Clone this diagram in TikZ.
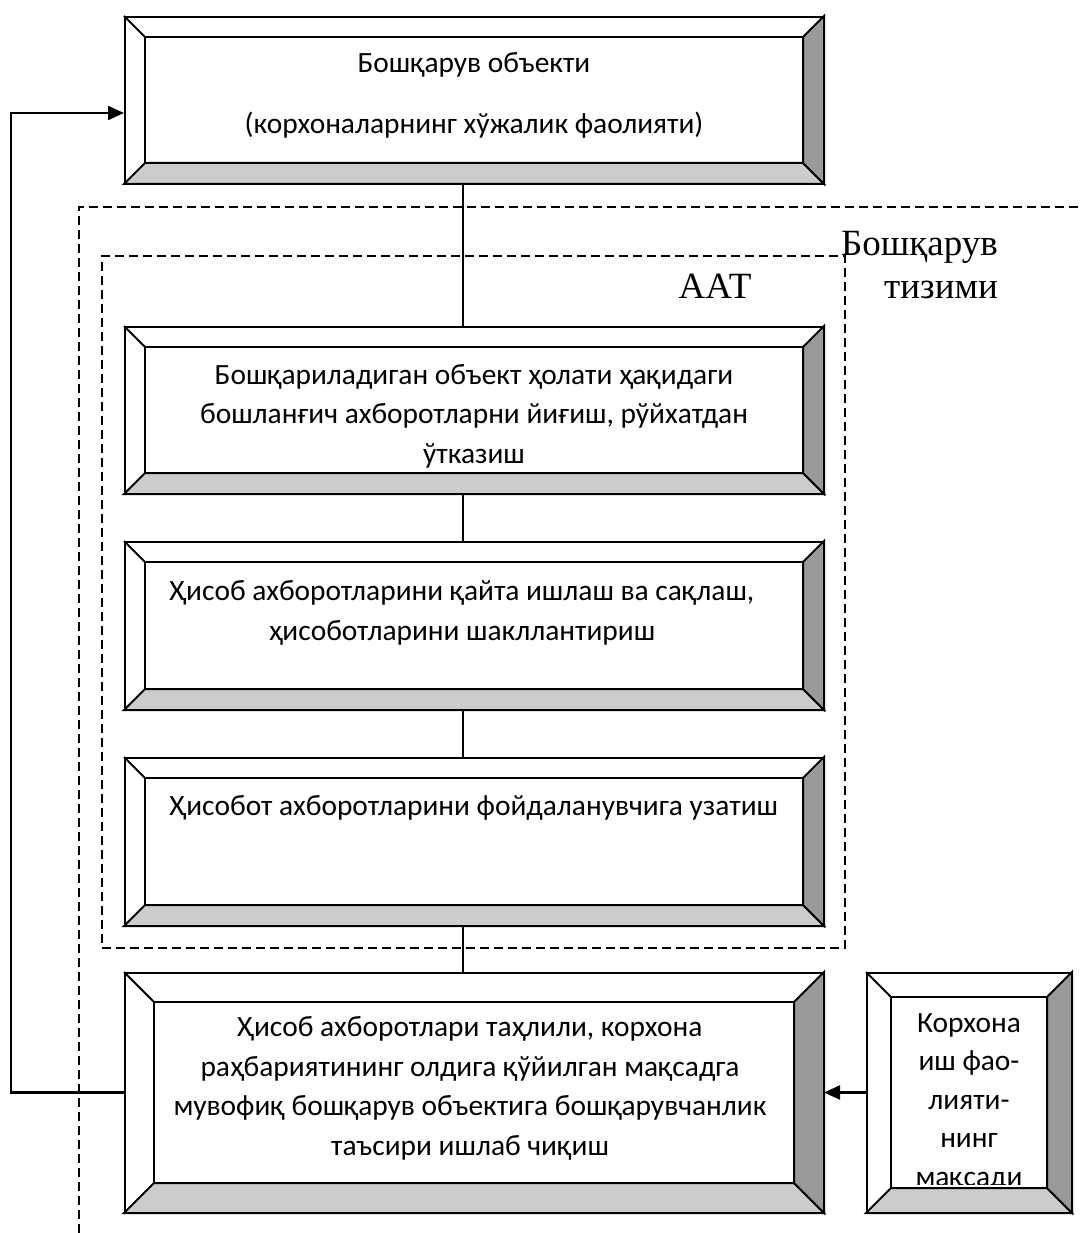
\documentclass[tikz,border=0pt]{standalone}
\usepackage{fontspec}
\setmainfont{Carlito}
\newfontfamily\timescyr{Liberation Serif}
\usetikzlibrary{arrows.meta, fit, positioning}
\tikzset{
  bbox/.style  = {rectangle, draw=black, fill=white, line width=2pt, inner sep=0pt},
  btext/.style = {align=center, inner sep=0pt, anchor=base,
                  font=\fontsize{29.4}{39.5}\selectfont},
  link/.style  = {draw=black, line width=1.6pt},
  fb/.style    = {draw=black, line width=2.2pt, -{Triangle[length=16pt, width=14pt]}},
  frame/.style = {draw=black, line width=2pt, dash pattern=on 9pt off 5pt},
  tag/.style   = {inner sep=0pt, font=\timescyr\fontsize{37}{43}\selectfont},
}
\newcommand\bevel[2]{%
  \filldraw[fill=black!20, line width=2pt] (#1.south west) -- ([shift={(#2,-#2)}]#1.south west)
    -- ([shift={(-#2,-#2)}]#1.south east) -- (#1.south east) -- cycle;
  \filldraw[fill=black!40, line width=2pt] (#1.north east) -- ([shift={(-#2,#2)}]#1.north east)
    -- ([shift={(-#2,-#2)}]#1.south east) -- (#1.south east) -- cycle;
  \draw[line width=2pt] (#1.north west) -- ([shift={(#2,#2)}]#1.north west);
  \draw[line width=2pt] ([shift={(#2,#2)}]#1.north west) rectangle ([shift={(-#2,-#2)}]#1.south east);
}

\begin{document}
\begin{tikzpicture}[x=1pt, y=-1pt]
  \useasboundingbox (0,0) rectangle (1083,1233);

  \draw[frame] (79,1233) -- (79,207) -- (1083,207);
  \node[frame, fit={(102,256) (845,948)}, inner sep=0pt] (aat) {};
  \node[tag, anchor=base] (aat-l) at (715,298) {ААТ};
  \node[tag, align=right, anchor=base east] (sys-l) at (998,298) {Бошқарув\\тизими};

  \node[bbox, fit={(125,17) (823,183)}] (obj) {};
  \bevel{obj}{21}
  \node[btext] (obj-t) at (474,134) {Бошқарув объекти\\[22pt](корхоналарнинг хўжалик фаолияти)};

  \node[bbox, fit={(125,327) (823,493)}] (collect) {};
  \bevel{collect}{21}
  \node[btext] (collect-t) at (474,463) {Бошқариладиган объект ҳолати ҳақидаги\\
    бошланғич ахборотларни йиғиш, рўйхатдан\\ўтказиш};

  \node[bbox, fit={(125,542) (823,709)}] (process) {};
  \bevel{process}{21}
  \node[btext] (process-t) at (462,640) {Ҳисоб ахборотларини қайта ишлаш ва сақлаш,\\
    ҳисоботларини шакллантириш};

  \node[bbox, fit={(125,758) (823,925)}] (send) {};
  \bevel{send}{21}
  \node[btext] (send-t) at (474,815) {Ҳисобот ахборотларини фойдаланувчига узатиш};

  \node[bbox, fit={(125,973) (823,1212)}] (control) {};
  \bevel{control}{30}
  \node[btext] (control-t) at (470,1155) {Ҳисоб ахборотлари таҳлили, корхона\\
    раҳбариятининг олдига қўйилган мақсадга\\мувофиқ бошқарув объектига бошқарувчанлик\\
    таъсири ишлаб чиқиш};

  \node[bbox, fit={(867,973) (1071,1212)}] (goal) {};
  \bevel{goal}{25}
  \begin{scope}
    \clip (893,998) rectangle (1045,1184);
    \node[btext, font=\fontsize{29.4}{38.5}\selectfont] (goal-t) at (969,1186)
      {Корхона\\иш фао-\\лияти-\\нинг\\мақсади};
  \end{scope}

  \draw[link] ([xshift=-11pt]obj.south) -- ([xshift=-11pt]collect.north);
  \draw[link] ([xshift=-11pt]collect.south) -- ([xshift=-11pt]process.north);
  \draw[link] ([xshift=-11pt]process.south) -- ([xshift=-11pt]send.north);
  \draw[link] ([xshift=-11pt]send.south) -- ([xshift=-11pt]control.north);

  \draw[fb] (control.west) -- ++(-113,0) |- ([yshift=-13pt]obj.west);
  \draw[fb] (goal.west) -- (control.east);
\end{tikzpicture}
\end{document}
